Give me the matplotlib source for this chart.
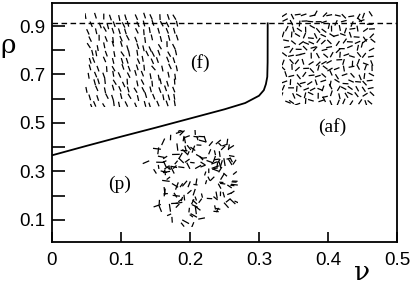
import numpy as np
import matplotlib.pyplot as plt
from matplotlib.collections import LineCollection

# phase boundary (solid) and upper density limit (dashed)
nu_line = [0.0, 0.05, 0.10, 0.15, 0.20, 0.25, 0.28, 0.30, 0.307, 0.310, 0.312, 0.3125, 0.3126]
rho_line = [0.366, 0.405, 0.443, 0.480, 0.518, 0.556, 0.582, 0.612, 0.635, 0.660, 0.690, 0.750, 0.911]
rho_max = 0.911

xticks = [0, 0.1, 0.2, 0.3, 0.4, 0.5]
xticklabels = ["0", "0.1", "0.2", "0.3", "0.4", "0.5"]
yticks = [0.1, 0.3, 0.5, 0.7, 0.9]
yticklabels = ["0.1", "0.3", "0.5", "0.7", "0.9"]
yminor = [0.2, 0.4, 0.6, 0.8]

# phase labels and where the snapshots sit (data coords: x0, y0, w, h)
phase_labels = ["(f)", "(af)", "(p)"]
label_pos = [(0.2145, 0.747), (0.406, 0.483), (0.0986, 0.247)]
snap_boxes = [(0.048, 0.565, 0.138, 0.393), (0.333, 0.574, 0.139, 0.392), (0.1275, 0.069, 0.142, 0.401)]

plt.rcParams['font.family'] = ['Liberation Sans', 'DejaVu Sans']

fig = plt.figure(figsize=(4.15, 2.84), dpi=100)
ax = fig.add_axes([0.1253, 0.1479, 0.8313, 0.8415])

ax.plot(nu_line, rho_line, color="black", lw=1.3)
ax.axhline(rho_max, color="black", lw=1.0, ls=(0, (4, 2.5)))

ax.set_xlim(0, 0.5)
ax.set_ylim(0.008, 0.995)
ax.set_xticks(xticks)
ax.set_xticklabels(xticklabels)
ax.set_yticks(yticks)
ax.set_yticklabels(yticklabels)
ax.set_yticks(yminor, minor=True)
ax.tick_params(axis="both", which="both", direction="in", width=1.2, labelsize=13.5)
ax.tick_params(axis="y", which="both", length=9.5, pad=5)
ax.tick_params(axis="x", which="both", length=7, pad=7)
for s in ax.spines.values():
    s.set_linewidth(1.3)

fig.text(362 / 415, 1 - 272 / 284, "ν", ha="center", va="center", fontsize=19, family="DejaVu Serif")
fig.text(8 / 415, 1 - 45 / 284, "ρ", ha="center", va="center", fontsize=19, family="DejaVu Serif")

for lab, (x, y) in zip(phase_labels, label_pos):
    ax.text(x, y, lab, ha="center", va="center", fontsize=14, family="Liberation Serif")


# snapshots of the rods (decorative textures)
def rods(kind, rng):
    segs = []
    if kind == "f":
        for i in range(12):
            for j in range(13):
                cx = 4 + i * 8.0 + rng.normal(0, 1.3) + (j % 2) * 1.5
                cy = 3 + j * 7.4 + rng.normal(0, 1.0)
                a = np.deg2rad(-72 + rng.normal(0, 8))
                L = 6.0
                dx, dy = 0.5 * L * np.cos(a), 0.5 * L * np.sin(a)
                segs.append([(cx - dx, cy - dy), (cx + dx, cy + dy)])
    elif kind == "af":
        for i in range(14):
            for j in range(14):
                cx = 3 + i * 6.8 + rng.normal(0, 1.3)
                cy = 3 + j * 6.8 + rng.normal(0, 1.3)
                a = rng.uniform(0, np.pi)
                L = 6.0
                dx, dy = 0.5 * L * np.cos(a), 0.5 * L * np.sin(a)
                segs.append([(cx - dx, cy - dy), (cx + dx, cy + dy)])
    else:
        n = 0
        while n < 160:
            cx, cy = rng.uniform(0, 98), rng.uniform(0, 97)
            r = np.hypot((cx - 55) / 55, (cy - 50) / 52)
            if rng.uniform() < r ** 3:
                continue
            a = rng.uniform(0, np.pi)
            L = rng.uniform(4, 8)
            dx, dy = 0.5 * L * np.cos(a), 0.5 * L * np.sin(a)
            segs.append([(cx - dx, cy - dy), (cx + dx, cy + dy)])
            n += 1
    return segs


rng = np.random.default_rng(3)
for kind, box in zip(["f", "af", "p"], snap_boxes):
    ia = ax.inset_axes(box, transform=ax.transData)
    ia.set_xlim(0, 98)
    ia.set_ylim(0, 97)
    ia.axis("off")
    ia.patch.set_alpha(0)
    ia.add_collection(LineCollection(rods(kind, rng), colors="black", linewidths=0.9))

fig.savefig("out.png", dpi=100)
